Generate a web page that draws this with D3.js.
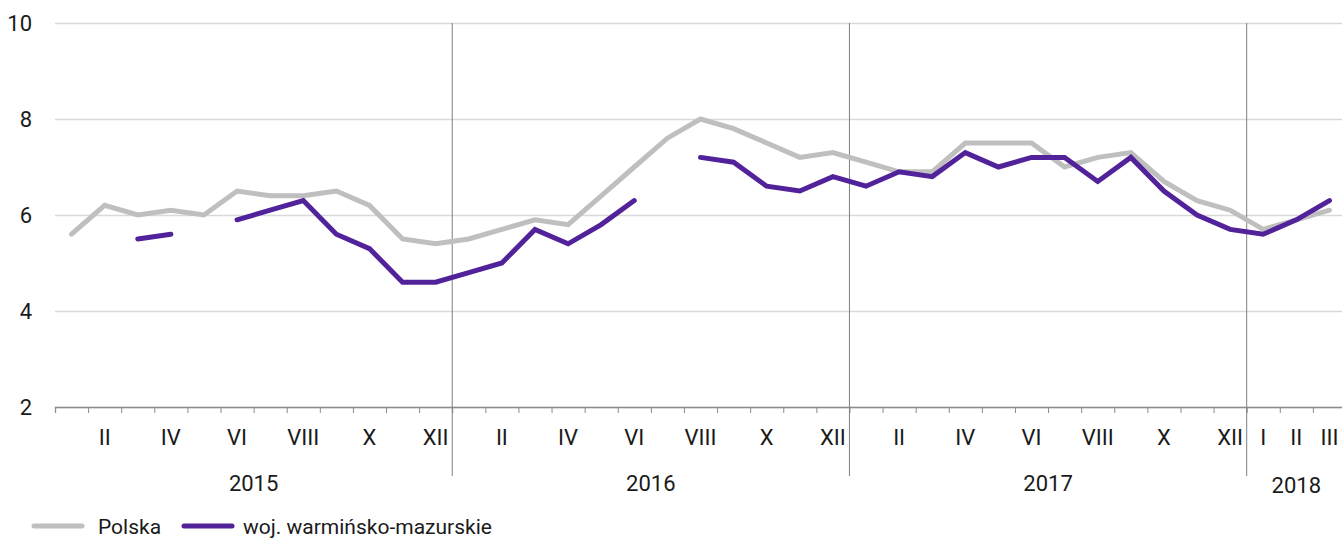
<!DOCTYPE html>
<html>
<head>
<meta charset="utf-8">
<script src="https://cdn.jsdelivr.net/npm/d3@7"></script>
<style>
  body { margin: 0; background: #fff; }
  svg text { font-family: Roboto, "Noto Sans", sans-serif; fill: #1a1a1a; }
</style>
</head>
<body>
<div id="chart"></div>
<script>
// Data
const monthLabels = [
    "", "II", "", "IV", "", "VI", "", "VIII", "", "X", "", "XII",
    "", "II", "", "IV", "", "VI", "", "VIII", "", "X", "", "XII",
    "", "II", "", "IV", "", "VI", "", "VIII", "", "X", "", "XII",
    "I", "II", "III"
];
const years = ["2015", "2016", "2017", "2018"];
const yearMonths = [12, 12, 12, 3];

const polska = [
    5.6, 6.2, 6.0, 6.1, 6.0, 6.5, 6.4, 6.4, 6.5, 6.2, 5.5, 5.4,
    5.5, 5.7, 5.9, 5.8, 6.4, 7.0, 7.6, 8.0, 7.8, 7.5, 7.2, 7.3,
    7.1, 6.9, 6.9, 7.5, 7.5, 7.5, 7.0, 7.2, 7.3, 6.7, 6.3, 6.1,
    5.7, 5.9, 6.1
];
const warmMaz = [
    null, null, 5.5, 5.6, null, 5.9, 6.1, 6.3, 5.6, 5.3, 4.6, 4.6,
    4.8, 5.0, 5.7, 5.4, 5.8, 6.3, null, 7.2, 7.1, 6.6, 6.5, 6.8,
    6.6, 6.9, 6.8, 7.3, 7.0, 7.2, 7.2, 6.7, 7.2, 6.5, 6.0, 5.7,
    5.6, 5.9, 6.3
];
const seriesNames = ["Polska", "woj. warmińsko-mazurskie"];
const yTicks = [2, 4, 6, 8, 10];

const chart_width = 1342;
const chart_height = 541;
const plot_left = 55, plot_right = 1346, plot_top = 23, plot_bottom = 407;
const colors = ["#bfbfbf", "#51229a"];

const svg = d3.select("#chart")
    .append("svg")
    .attr("width", chart_width)
    .attr("height", chart_height);

// Scales
const x_scale = d3.scaleLinear()
    .domain([0, monthLabels.length])
    .range([plot_left, plot_right]);

const y_scale = d3.scaleLinear()
    .domain([2, 10])
    .range([plot_bottom, plot_top]);

// Gridlines + y labels
const y_axis = d3.axisLeft(y_scale)
    .tickValues(yTicks)
    .tickSize(-(plot_right - plot_left))
    .tickPadding(23);

svg.append("g")
    .attr("transform", `translate(${plot_left}, 0)`)
    .call(y_axis)
    .call(g => g.select(".domain").remove())
    .call(g => g.selectAll("line").attr("stroke", "#d9d9d9").attr("stroke-width", 1.3))
    .call(g => g.selectAll("text").style("font-size", "22px").attr("fill", "#1a1a1a"));

// X axis with month ticks
const x_axis = d3.axisBottom(x_scale)
    .tickValues(d3.range(0, monthLabels.length + 1))
    .tickSize(6)
    .tickFormat("");

svg.append("g")
    .attr("transform", `translate(0, ${plot_bottom})`)
    .call(x_axis)
    .call(g => g.select(".domain").attr("stroke", "#8c8c8c").attr("stroke-width", 1.3))
    .call(g => g.selectAll("line").attr("stroke", "#8c8c8c"));

// Year separators
let acc = 0;
const yearStarts = yearMonths.map(n => { const s = acc; acc += n; return s; });

svg.append("g")
    .selectAll("line")
    .data(yearStarts.slice(1))
    .join("line")
    .attr("x1", d => x_scale(d))
    .attr("x2", d => x_scale(d))
    .attr("y1", plot_top)
    .attr("y2", 476)
    .attr("stroke", "#7f7f7f")
    .attr("stroke-width", 1);

// Month labels
svg.append("g")
    .selectAll("text")
    .data(monthLabels)
    .join("text")
    .attr("x", (d, i) => x_scale(i + 0.5))
    .attr("y", 445)
    .attr("text-anchor", "middle")
    .style("font-size", "22px")
    .text(d => d);

// Year labels
svg.append("g")
    .selectAll("text")
    .data(years)
    .join("text")
    .attr("x", (d, i) => x_scale(yearStarts[i] + yearMonths[i] / 2))
    .attr("y", (d, i) => i === 3 ? 493 : 491)
    .attr("text-anchor", "middle")
    .style("font-size", "22px")
    .text(d => d);

// Lines
const line = d3.line()
    .defined(d => d != null)
    .x((d, i) => x_scale(i + 0.5))
    .y(d => y_scale(d));

[polska, warmMaz].forEach((s, k) => {
    svg.append("path")
        .datum(s)
        .attr("fill", "none")
        .attr("stroke", colors[k])
        .attr("stroke-width", 5)
        .attr("stroke-linecap", "round")
        .attr("d", line);
});

// Legend
const legendX = [34, 184];
const legend = svg.append("g")
    .selectAll("g")
    .data(seriesNames)
    .join("g")
    .attr("transform", (d, i) => `translate(${legendX[i]}, 526)`);

legend.append("line")
    .attr("x1", 0)
    .attr("x2", 48)
    .attr("stroke", (d, i) => colors[i])
    .attr("stroke-width", 5)
    .attr("stroke-linecap", "round");

legend.append("text")
    .attr("x", (d, i) => i === 0 ? 64 : 59)
    .attr("y", 8)
    .style("font-size", "21px")
    .text(d => d);
</script>
</body>
</html>
